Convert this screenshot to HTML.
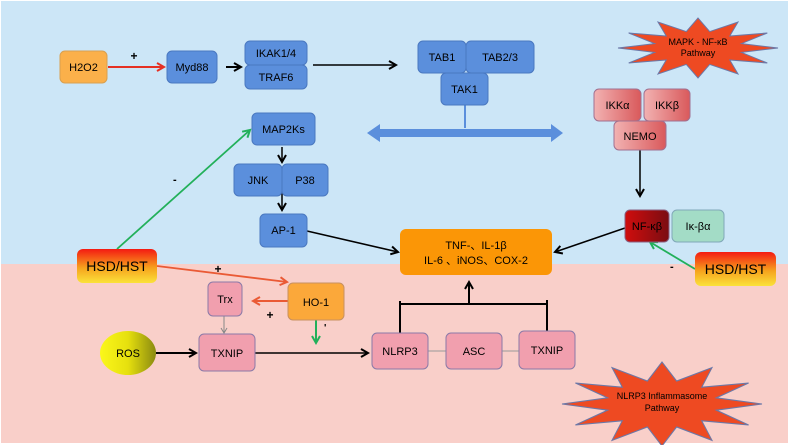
<!DOCTYPE html>
<html><head><meta charset="utf-8"><style>
html,body{margin:0;padding:0;background:#fff}
svg{display:block;font-family:"Liberation Sans",sans-serif}
</style></head><body>
<svg width="789" height="445" viewBox="0 0 789 445" xmlns="http://www.w3.org/2000/svg">
<defs>
<marker id="ak" markerWidth="10" markerHeight="10" refX="8" refY="5" orient="auto" markerUnits="userSpaceOnUse"><path d="M1,1 L8,5 L1,9" fill="none" stroke="#000" stroke-width="2"/></marker>
<marker id="ar" markerWidth="10" markerHeight="10" refX="8" refY="5" orient="auto" markerUnits="userSpaceOnUse"><path d="M1,1 L8,5 L1,9" fill="none" stroke="#e53023" stroke-width="2"/></marker>
<marker id="ao" markerWidth="10" markerHeight="10" refX="8" refY="5" orient="auto" markerUnits="userSpaceOnUse"><path d="M1,1 L8,5 L1,9" fill="none" stroke="#ea5a35" stroke-width="2"/></marker>
<marker id="ag" markerWidth="10" markerHeight="10" refX="8" refY="5" orient="auto" markerUnits="userSpaceOnUse"><path d="M1,1 L8,5 L1,9" fill="none" stroke="#22b05a" stroke-width="2"/></marker>
<marker id="at" markerWidth="8" markerHeight="8" refX="6" refY="4" orient="auto" markerUnits="userSpaceOnUse"><path d="M1,1 L6,4 L1,7" fill="none" stroke="#888" stroke-width="1"/></marker>
<linearGradient id="hsd" x1="0" y1="0" x2="0" y2="1"><stop offset="0" stop-color="#f41a12"/><stop offset="0.55" stop-color="#f6a21d"/><stop offset="1" stop-color="#fbe23a"/></linearGradient>
<linearGradient id="ros" x1="0" y1="0" x2="1" y2="0"><stop offset="0" stop-color="#fbf71a"/><stop offset="0.5" stop-color="#e6e00e"/><stop offset="1" stop-color="#8a8a10"/></linearGradient>
<linearGradient id="ikk" x1="0" y1="0" x2="1" y2="0"><stop offset="0" stop-color="#f2b2b2"/><stop offset="1" stop-color="#d9595b"/></linearGradient>
<linearGradient id="nfk" x1="0" y1="0" x2="1" y2="0"><stop offset="0" stop-color="#d00d0d"/><stop offset="1" stop-color="#7a0d12"/></linearGradient>
<polygon id="star" points="80,0 43.5,4.4 69.3,15 31.8,12 40,26 11.7,16.4 0,30 -11.7,16.4 -40,26 -31.8,12 -69.3,15 -43.5,4.4 -80,0 -43.5,-4.4 -69.3,-15 -31.8,-12 -40,-26 -11.7,-16.4 0,-30 11.7,-16.4 40,-26 31.8,-12 69.3,-15 43.5,-4.4"/>
</defs>
<rect x="0" y="0" width="789" height="445" fill="#fff"/>
<rect x="1" y="1" width="787" height="263" fill="#cce6f7"/>
<rect x="1" y="264" width="787" height="179" fill="#f9cfc9"/>

<!-- stars -->
<g transform="translate(698,48)"><use href="#star" fill="#ee4a22" stroke="#6b78a8" stroke-width="1"/></g>
<text x="698" y="45" font-size="9" text-anchor="middle">MAPK - NF-κB</text>
<text x="698" y="56" font-size="9" text-anchor="middle">Pathway</text>
<g transform="translate(662,404) scale(1.25,1.4)"><use href="#star" fill="#ee4a22" stroke="#6b78a8" stroke-width="0.8"/></g>
<text x="662" y="399" font-size="9" text-anchor="middle">NLRP3 Inflammasome</text>
<text x="662" y="411" font-size="9" text-anchor="middle">Pathway</text>

<!-- connectors -->
<line x1="108" y1="67" x2="164" y2="67" stroke="#e53023" stroke-width="2" marker-end="url(#ar)"/>
<text x="134" y="60" font-size="12" font-weight="bold" text-anchor="middle">+</text>
<line x1="226" y1="67" x2="241" y2="67" stroke="#000" stroke-width="2" marker-end="url(#ak)"/>
<line x1="313" y1="65" x2="396" y2="65" stroke="#000" stroke-width="1.5" marker-end="url(#ak)"/>
<line x1="465" y1="105" x2="465" y2="128" stroke="#5b8fdc" stroke-width="2"/>
<polygon points="367,133 380,124 380,129 551,129 551,124 563,133 551,142 551,137 380,137 380,142" fill="#5b8fdc"/>
<line x1="640" y1="150" x2="640" y2="196" stroke="#000" stroke-width="1.5" marker-end="url(#ak)"/>
<line x1="282" y1="147" x2="282" y2="162" stroke="#000" stroke-width="1.5" marker-end="url(#ak)"/>
<line x1="282" y1="192" x2="282" y2="210" stroke="#000" stroke-width="1.5" marker-end="url(#ak)"/>
<line x1="307" y1="231" x2="398" y2="252" stroke="#000" stroke-width="1.5" marker-end="url(#ak)"/>
<line x1="625" y1="228" x2="555" y2="252" stroke="#000" stroke-width="1.5" marker-end="url(#ak)"/>
<line x1="117" y1="249" x2="250" y2="130" stroke="#22b05a" stroke-width="1.8" marker-end="url(#ag)"/>
<text x="173" y="183" font-size="11" font-weight="bold">-</text>
<line x1="695" y1="269" x2="650" y2="242" stroke="#22b05a" stroke-width="1.8" marker-end="url(#ag)"/>
<text x="670" y="270" font-size="11" font-weight="bold">-</text>
<line x1="157" y1="266" x2="287" y2="282" stroke="#ea5a35" stroke-width="1.8" marker-end="url(#ao)"/>
<text x="218" y="273" font-size="12" font-weight="bold" text-anchor="middle">+</text>
<line x1="288" y1="301" x2="253" y2="301" stroke="#ea5a35" stroke-width="2" marker-end="url(#ao)"/>
<text x="270" y="319" font-size="12" font-weight="bold" text-anchor="middle">+</text>
<line x1="316" y1="320" x2="316" y2="343" stroke="#22b05a" stroke-width="2" marker-end="url(#ag)"/>
<text x="324" y="331" font-size="10" font-weight="bold">'</text>
<line x1="224" y1="316" x2="224" y2="333" stroke="#888" stroke-width="1" marker-end="url(#at)"/>
<line x1="156" y1="353" x2="196" y2="353" stroke="#000" stroke-width="2" marker-end="url(#ak)"/>
<line x1="255" y1="353" x2="368" y2="353" stroke="#000" stroke-width="1.5" marker-end="url(#ak)"/>
<line x1="428" y1="351" x2="446" y2="351" stroke="#999" stroke-width="1"/>
<line x1="502" y1="351" x2="519" y2="351" stroke="#999" stroke-width="1"/>
<polyline points="400,333 400,304 547,304 547,331" fill="none" stroke="#000" stroke-width="2"/>
<line x1="400" y1="301" x2="400" y2="307" stroke="#000" stroke-width="2"/>
<line x1="547" y1="300" x2="547" y2="308" stroke="#000" stroke-width="2"/>
<line x1="469" y1="303" x2="469" y2="282" stroke="#000" stroke-width="2" marker-end="url(#ak)"/>

<!-- nodes -->
<g font-size="11" text-anchor="middle">
<rect x="60" y="51" width="47" height="32" rx="5" fill="#fbb04a" stroke="#d8a050"/><text x="83.5" y="71">H2O2</text>
<g fill="#5b8fdc" stroke="#4a78c0">
<rect x="167" y="51" width="50" height="32" rx="5"/>
<rect x="245" y="41" width="62" height="24" rx="5"/>
<rect x="245" y="65" width="62" height="24" rx="5"/>
<rect x="418" y="41" width="48" height="32" rx="5"/>
<rect x="466" y="41" width="68" height="32" rx="5"/>
<rect x="441" y="73" width="47" height="32" rx="5"/>
<rect x="252" y="113" width="63" height="32" rx="5"/>
<rect x="234" y="164" width="48" height="32" rx="5"/>
<rect x="282" y="164" width="46" height="32" rx="5"/>
<rect x="260" y="214" width="47" height="33" rx="5"/>
</g>
<text x="192" y="71">Myd88</text>
<text x="276" y="57">IKAK1/4</text>
<text x="276" y="81">TRAF6</text>
<text x="442" y="61">TAB1</text>
<text x="500" y="61">TAB2/3</text>
<text x="464.5" y="93">TAK1</text>
<text x="283.5" y="133">MAP2Ks</text>
<text x="258" y="184">JNK</text>
<text x="305" y="184">P38</text>
<text x="283.5" y="234">AP-1</text>

<g fill="url(#ikk)" stroke="#a07090">
<rect x="594" y="89" width="47" height="32" rx="5"/>
<rect x="644" y="89" width="46" height="32" rx="5"/>
<rect x="614" y="121" width="52" height="29" rx="5"/>
</g>
<text x="617.5" y="109">IKKα</text>
<text x="667" y="109">IKKβ</text>
<text x="640" y="140">NEMO</text>

<rect x="625" y="210" width="44" height="32" rx="5" fill="url(#nfk)" stroke="#8a6080"/><text x="647" y="230">NF-κβ</text>
<rect x="672" y="210" width="52" height="32" rx="5" fill="#a3dcc6" stroke="#80a8b8"/><text x="698" y="230">Iκ-βα</text>

<rect x="400" y="229" width="152" height="46" rx="6" fill="#fb9606"/>
<text x="476" y="249" font-size="11">TNF-、IL-1β</text>
<text x="476" y="264" font-size="11">IL-6 、iNOS、COX-2</text>

<rect x="77" y="249" width="80" height="34" rx="6" fill="url(#hsd)"/><text x="117" y="271" font-size="14">HSD/HST</text>
<rect x="695" y="252" width="81" height="34" rx="6" fill="url(#hsd)"/><text x="735.5" y="274" font-size="14">HSD/HST</text>

<g fill="#f19fae" stroke="#8a7aa8">
<rect x="208" y="282" width="34" height="34" rx="5"/>
<rect x="199" y="334" width="56" height="37" rx="5"/>
<rect x="372" y="333" width="56" height="36" rx="5"/>
<rect x="446" y="333" width="56" height="36" rx="5"/>
<rect x="519" y="331" width="56" height="38" rx="5"/>
</g>
<rect x="288" y="283" width="56" height="37" rx="5" fill="#fba83a" stroke="#c89060"/><text x="316" y="306">HO-1</text>
<text x="225" y="303">Trx</text>
<text x="227" y="357">TXNIP</text>
<text x="400" y="355">NLRP3</text>
<text x="474" y="355">ASC</text>
<text x="547" y="354">TXNIP</text>
<ellipse cx="128" cy="353" rx="28" ry="22" fill="url(#ros)"/><text x="128" y="357">ROS</text>
</g>
</svg>
</body></html>
